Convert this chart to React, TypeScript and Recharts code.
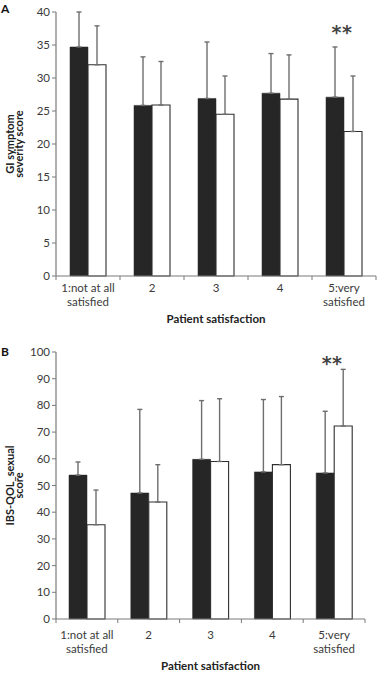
import React from 'react';
import { BarChart, Bar, XAxis, YAxis, ErrorBar, ReferenceDot } from 'recharts';

const categories = ['1:not at all\nsatisfied', '2', '3', '4', '5:very\nsatisfied'];

// A: GI symptom severity score
const giBlack = [34.7, 25.85, 26.9, 27.7, 27.1];
const giWhite = [32.0, 25.9, 24.5, 26.8, 21.9];
const giBlackTop = [40.0, 33.2, 35.45, 33.7, 34.7];
const giWhiteTop = [37.9, 32.5, 30.3, 33.5, 30.3];
const giTicks = [0, 5, 10, 15, 20, 25, 30, 35, 40];

// B: IBS-QOL sexual score
const sexBlack = [53.9, 47.2, 59.8, 55.1, 54.7];
const sexWhite = [35.3, 43.8, 59.0, 57.8, 72.3];
const sexBlackTop = [58.8, 78.5, 81.8, 82.2, 77.8];
const sexWhiteTop = [48.3, 57.8, 82.5, 83.3, 93.5];
const sexTicks = [0, 10, 20, 30, 40, 50, 60, 70, 80, 90, 100];

const FONT = 'Lato, "Open Sans", sans-serif';
const AXIS = '#7a7a7a';
const TEXT = '#3a3a3a';

const buildRows = (black: number[], white: number[], blackTop: number[], whiteTop: number[]) =>
  categories.map((cat, i) => ({
    cat,
    black: black[i],
    white: white[i],
    blackErr: [0, blackTop[i] - black[i]],
    whiteErr: [0, whiteTop[i] - white[i]],
  }));

// category label + tick marks on the band edges (like Excel)
const CatTick = ({ x, y, payload, index, visibleTicksCount, firstDy }: any) => {
  const lines = String(payload.value).split('\n');
  const half = payload.offset || 0;
  const last = index === visibleTicksCount - 1;
  return (
    <g>
      <line x1={x - half} x2={x - half} y1={y} y2={y + 4} stroke={AXIS} />
      {last && <line x1={x + half} x2={x + half} y1={y} y2={y + 4} stroke={AXIS} />}
      <text x={x} y={y} textAnchor="middle" fontSize={11.5} fill={TEXT} fontFamily={FONT}>
        {lines.map((l, i) => (
          <tspan key={i} x={x} dy={i === 0 ? firstDy : 14}>{l}</tspan>
        ))}
      </text>
    </g>
  );
};

const YTitle = ({ viewBox, lines }: any) => {
  const cy = viewBox.y + viewBox.height / 2;
  return (
    <g>
      {lines.map((l: string, i: number) => {
        const cx = viewBox.x + 13.5 + i * 9.5;
        return (
          <text key={i} x={cx} y={cy} transform={`rotate(-90 ${cx} ${cy})`} textAnchor="middle"
            fontSize={11} fontWeight={700} fill="#222" fontFamily={FONT}>
            {l}
          </text>
        );
      })}
    </g>
  );
};

const XTitle = ({ viewBox, dy }: any) => (
  <text x={viewBox.x + viewBox.width / 2} y={viewBox.y + dy} textAnchor="middle"
    fontSize={11.5} fontWeight={700} fill="#222" fontFamily={FONT}>
    Patient satisfaction
  </text>
);

const Stars = ({ viewBox }: any) => (
  <text x={viewBox.x - 2} y={viewBox.y + 9} textAnchor="middle" fontSize={19} fontWeight={700} fill="#444"
    letterSpacing={0.5} fontFamily={'"DejaVu Sans", sans-serif'}>
    **
  </text>
);

interface PanelProps {
  black: number[];
  white: number[];
  blackTop: number[];
  whiteTop: number[];
  ticks: number[];
  yLines: string[];
  height: number;
  top: number;
  right: number;
  tickDy: number;
  titleDy: number;
  starY: number;
}

const Panel: React.FC<PanelProps> = (p) => {
  const data = buildRows(p.black, p.white, p.blackTop, p.whiteTop);
  const max = p.ticks[p.ticks.length - 1];
  return (
    <BarChart width={380} height={p.height} data={data}
      margin={{ top: p.top, right: p.right, bottom: 0, left: 0 }}
      barGap={0} barSize={18}>
      <XAxis dataKey="cat" height={54} interval={0}
        axisLine={{ stroke: AXIS, strokeWidth: 1.2 }} tickLine={false} tickSize={0} tickMargin={0}
        tick={<CatTick firstDy={p.tickDy} />}
        label={<XTitle dy={p.titleDy} />} />
      <YAxis domain={[0, max]} ticks={p.ticks} width={56} interval={0}
        axisLine={{ stroke: AXIS, strokeWidth: 1.2 }} tickLine={{ stroke: AXIS }} tickSize={4}
        tick={{ fontSize: 11.5, fill: TEXT, fontFamily: FONT }}
        label={<YTitle lines={p.yLines} />} />
      <Bar dataKey="black" fill="#262626" stroke="#262626" strokeWidth={0.5}
        isAnimationActive={false}>
        <ErrorBar dataKey="blackErr" direction="y" width={2.5} stroke="#6e6e6e" strokeWidth={1.4} />
      </Bar>
      <Bar dataKey="white" fill="#ffffff" stroke="#2e2e2e" strokeWidth={1.1}
        isAnimationActive={false}>
        <ErrorBar dataKey="whiteErr" direction="y" width={2.5} stroke="#6e6e6e" strokeWidth={1.4} />
      </Bar>
      <ReferenceDot x={categories[4]} y={p.starY} r={0} fill="none" stroke="none"
        label={<Stars />} />
    </BarChart>
  );
};

export default function App() {
  return (
    <div style={{ position: 'absolute', left: 0, top: 0, width: 380, height: 673, background: '#fff', fontFamily: FONT }}>
      <div style={{ position: 'absolute', left: 1, top: 1, fontSize: 12, fontWeight: 700, color: '#111' }}>A</div>
      <div style={{ position: 'absolute', left: 0, top: 0 }}>
        <Panel black={giBlack} white={giWhite} blackTop={giBlackTop} whiteTop={giWhiteTop}
          ticks={giTicks} yLines={['GI symptom', 'severity score']} height={330} top={12} right={4}
          tickDy={16} titleDy={47} starY={37.3} />
      </div>
      <div style={{ position: 'absolute', left: 1, top: 344, fontSize: 12, fontWeight: 700, color: '#111' }}>B</div>
      <div style={{ position: 'absolute', left: 0, top: 330 }}>
        <Panel black={sexBlack} white={sexWhite} blackTop={sexBlackTop} whiteTop={sexWhiteTop}
          ticks={sexTicks} yLines={['IBS-QOL_sexual', 'score']} height={343} top={22} right={15}
          tickDy={20} titleDy={51} starY={96.7} />
      </div>
    </div>
  );
}
